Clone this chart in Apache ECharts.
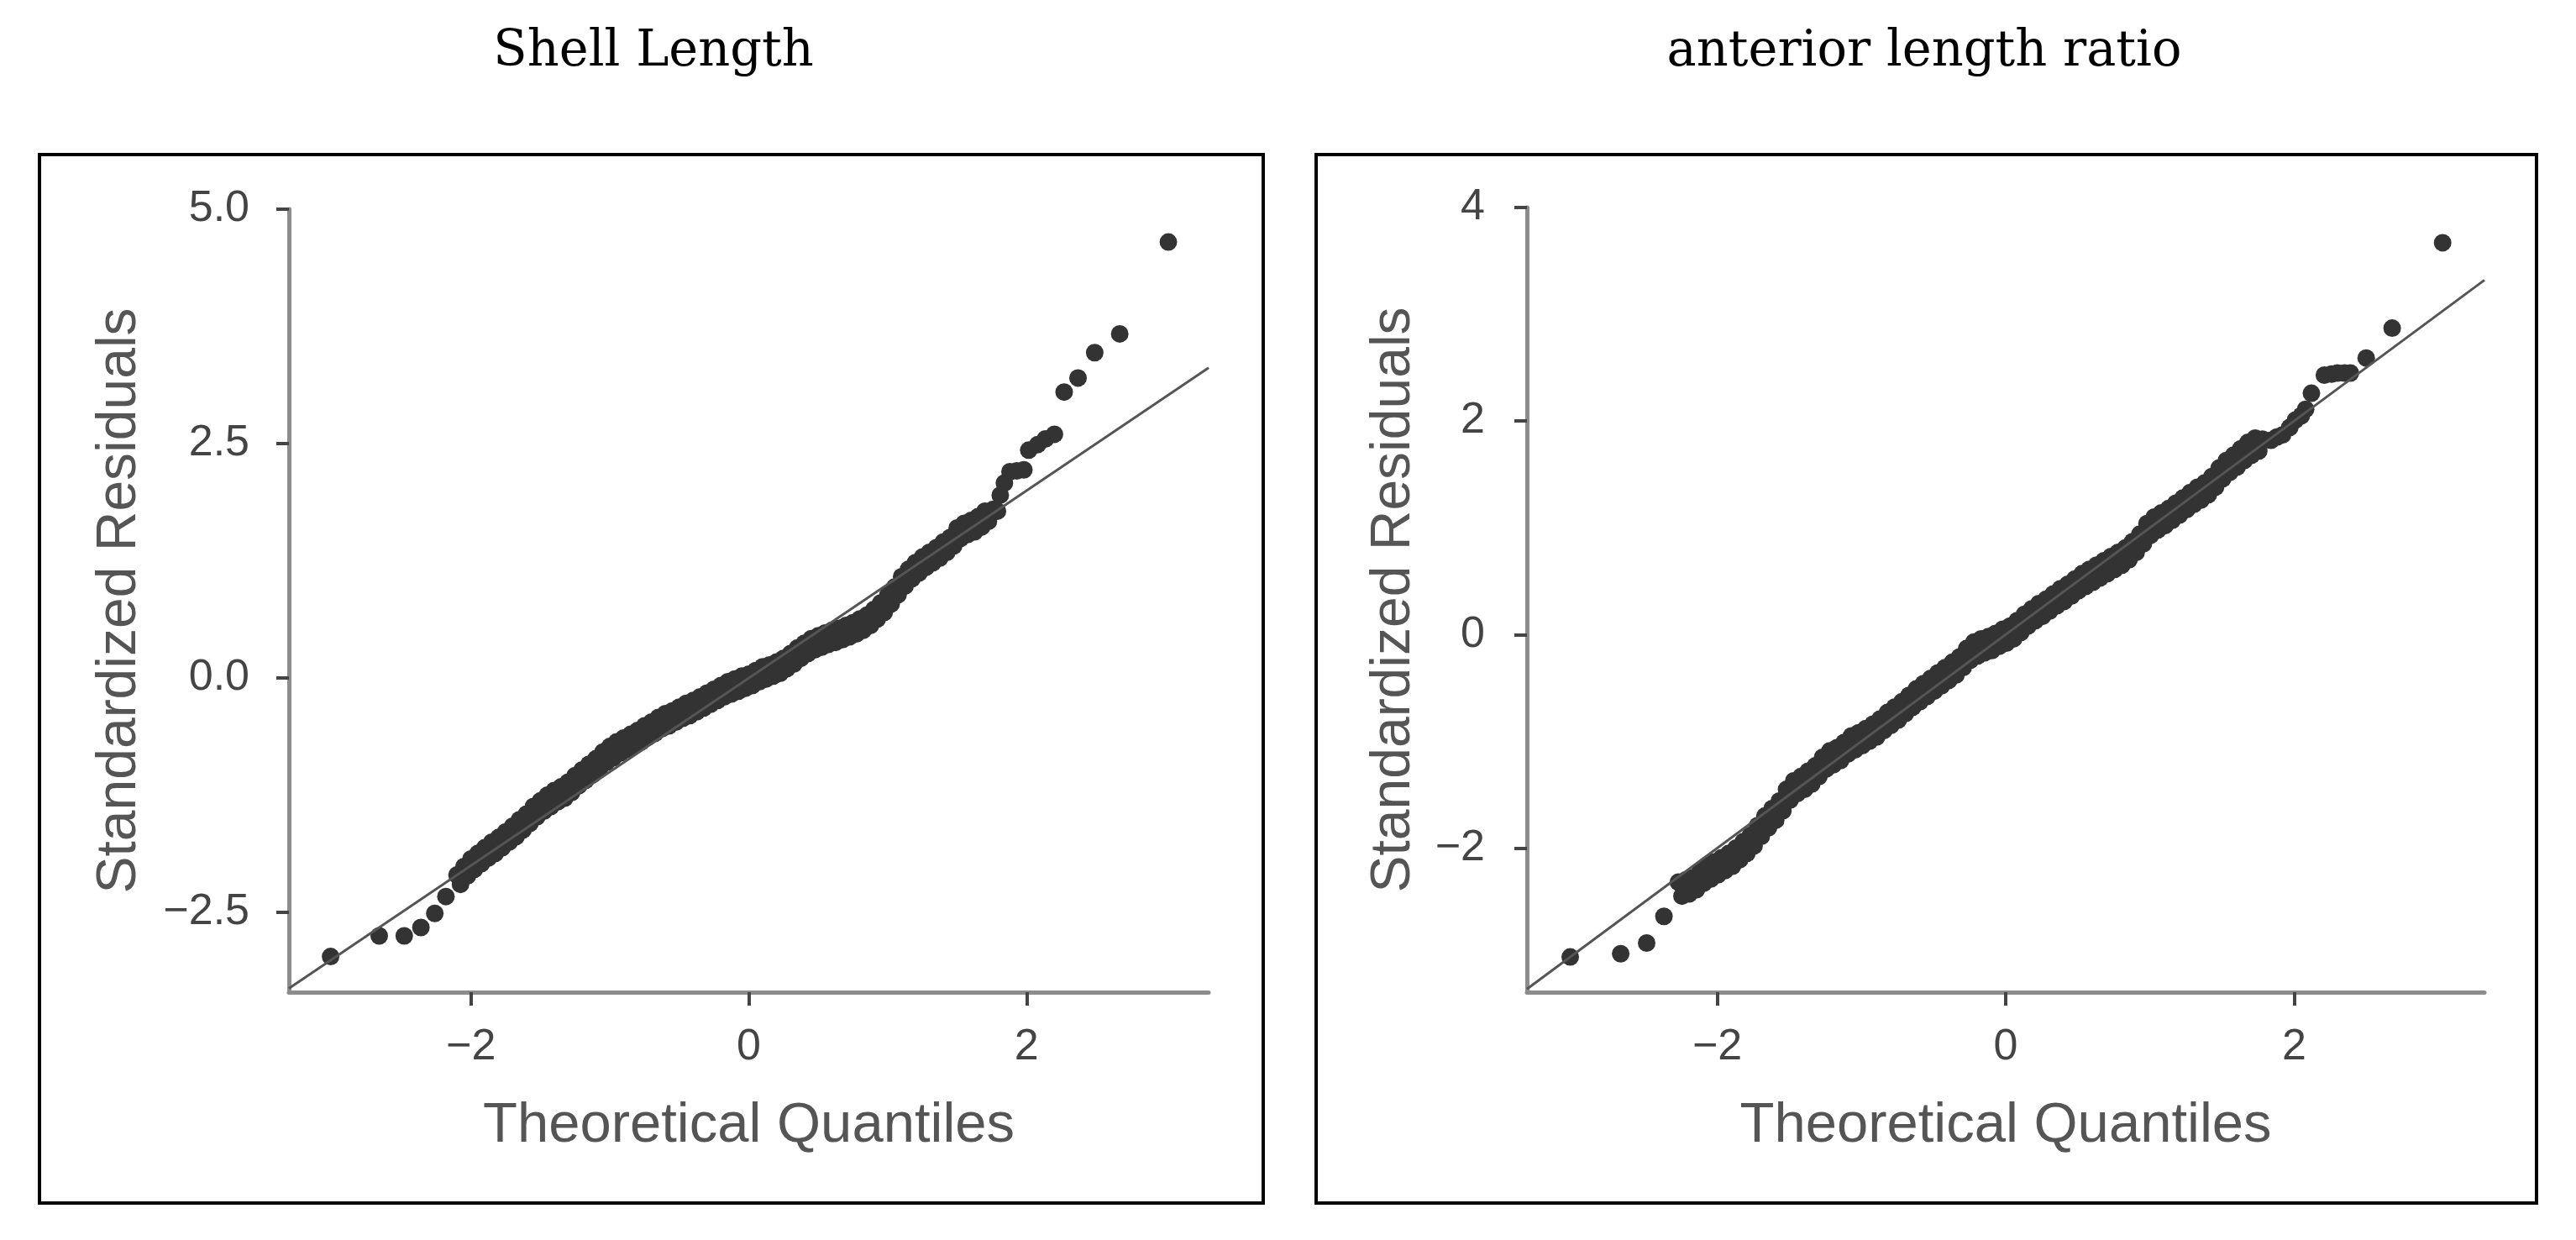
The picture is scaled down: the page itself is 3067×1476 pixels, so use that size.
<!DOCTYPE html>
<html>
<head>
<meta charset="utf-8">
<title>Q-Q plots</title>
<script src="https://cdn.jsdelivr.net/npm/echarts@6.0.0/dist/echarts.min.js"></script>
<style>
  html, body { margin: 0; padding: 0; background: #fff; }
  #main { width: 3067px; height: 1476px; }
</style>
</head>
<body>
<div id="main"></div>
<script>
// Shell Length: theoretical quantiles and standardized residuals (read off the plot;
// the dense band is given as its upper and lower runs of dots)
const shellQ = [
  -3.01, -2.66, -2.48, -2.36, -2.26, -2.18,
  -2.10, -2.075, -2.05, -2.025, -2.00, -1.975, -1.95, -1.925, -1.90, -1.875,
  -1.85, -1.825, -1.80, -1.775, -1.75, -1.725, -1.70, -1.675, -1.65, -1.625,
  -1.60, -1.575, -1.55, -1.525, -1.50, -1.475, -1.45, -1.425, -1.40, -1.375,
  -1.35, -1.325, -1.30, -1.275, -1.25, -1.225, -1.20, -1.175, -1.15, -1.125,
  -1.10, -1.075, -1.05, -1.025, -1.00, -0.975, -0.95, -0.925, -0.90, -0.875,
  -0.85, -0.825, -0.80, -0.775, -0.75, -0.725, -0.70, -0.675, -0.65, -0.625,
  -0.60, -0.575, -0.55, -0.525, -0.50, -0.475, -0.45, -0.425, -0.40, -0.375,
  -0.35, -0.325, -0.30, -0.275, -0.25, -0.225, -0.20, -0.175, -0.15, -0.125,
  -0.10, -0.075, -0.05, -0.025, 0.00, 0.025, 0.05, 0.075, 0.10, 0.125,
  0.15, 0.175, 0.20, 0.225, 0.25, 0.275, 0.30, 0.325, 0.35, 0.375,
  0.40, 0.425, 0.45, 0.475, 0.50, 0.525, 0.55, 0.575, 0.60, 0.625,
  0.65, 0.675, 0.70, 0.725, 0.75, 0.775, 0.80, 0.825, 0.85, 0.875,
  0.90, 0.925, 0.95, 0.975, 1.00, 1.025, 1.05, 1.075, 1.10, 1.125,
  1.15, 1.175, 1.20, 1.225, 1.25, 1.275, 1.30, 1.325, 1.35, 1.375,
  1.40, 1.425, 1.45, 1.475, 1.50, 1.525, 1.55, 1.575, 1.60, 1.625,
  1.65, 1.675, 1.70, 1.725, 1.76,
  1.79, 1.81, 1.84, 1.88, 1.93, 1.98, 2.015, 2.08, 2.135, 2.20,
  2.27, 2.37, 2.49, 2.67, 3.02
];
const shellR = [
  -2.97, -2.75, -2.75, -2.66, -2.51, -2.33,
  -2.10, -2.20, -2.01, -2.11, -1.93, -2.04, -1.87, -1.98, -1.81, -1.92,
  -1.75, -1.87, -1.70, -1.81, -1.64, -1.75, -1.58, -1.69, -1.51, -1.62,
  -1.45, -1.55, -1.37, -1.48, -1.31, -1.42, -1.25, -1.37, -1.20, -1.32,
  -1.16, -1.28, -1.11, -1.22, -1.04, -1.15, -0.98, -1.09, -0.92, -1.03,
  -0.86, -0.97, -0.79, -0.90, -0.73, -0.85, -0.68, -0.80, -0.64, -0.76,
  -0.60, -0.72, -0.56, -0.68, -0.51, -0.63, -0.47, -0.59, -0.42, -0.54,
  -0.38, -0.51, -0.35, -0.47, -0.31, -0.43, -0.27, -0.40, -0.24, -0.36,
  -0.20, -0.32, -0.16, -0.28, -0.12, -0.24, -0.08, -0.20, -0.04, -0.17,
  -0.01, -0.14, 0.02, -0.11, 0.04, -0.08, 0.08, -0.04, 0.12, -0.01,
  0.14, 0.02, 0.17, 0.05, 0.21, 0.10, 0.26, 0.15, 0.32, 0.21,
  0.37, 0.26, 0.42, 0.30, 0.45, 0.33, 0.48, 0.36, 0.51, 0.38,
  0.53, 0.41, 0.56, 0.44, 0.59, 0.47, 0.63, 0.51, 0.67, 0.56,
  0.73, 0.63, 0.80, 0.70, 0.88, 0.79, 0.97, 0.89, 1.08, 0.98,
  1.16, 1.06, 1.23, 1.12, 1.29, 1.18, 1.34, 1.23, 1.39, 1.28,
  1.45, 1.34, 1.50, 1.41, 1.60, 1.49, 1.65, 1.53, 1.68, 1.56,
  1.72, 1.61, 1.78, 1.67, 1.80,
  1.78, 1.95, 2.08, 2.20, 2.21, 2.22, 2.43, 2.49, 2.55, 2.60,
  3.05, 3.20, 3.47, 3.67, 4.65
];

// anterior length ratio
const ratioQ = [
  -3.02, -2.67, -2.49, -2.37,
  -2.27, -2.245, -2.22, -2.195, -2.17, -2.145, -2.12, -2.095, -2.07, -2.045,
  -2.02, -1.995, -1.97, -1.945, -1.92, -1.895, -1.87, -1.845, -1.82, -1.795,
  -1.77, -1.745, -1.72, -1.695, -1.67, -1.645, -1.62, -1.595, -1.57, -1.545,
  -1.52, -1.495, -1.47, -1.445, -1.42, -1.395, -1.37, -1.345, -1.32, -1.295,
  -1.27, -1.245, -1.22, -1.195, -1.17, -1.145, -1.12, -1.095, -1.07, -1.045,
  -1.02, -0.995, -0.97, -0.945, -0.92, -0.895, -0.87, -0.845, -0.82, -0.795,
  -0.77, -0.745, -0.72, -0.695, -0.67, -0.645, -0.62, -0.595, -0.57, -0.545,
  -0.52, -0.495, -0.47, -0.445, -0.42, -0.395, -0.37, -0.345, -0.32, -0.295,
  -0.27, -0.245, -0.22, -0.195, -0.17, -0.145, -0.12, -0.095, -0.07, -0.045,
  -0.02, 0.005, 0.03, 0.055, 0.08, 0.105, 0.13, 0.155, 0.18, 0.205,
  0.23, 0.255, 0.28, 0.305, 0.33, 0.355, 0.38, 0.405, 0.43, 0.455,
  0.48, 0.505, 0.53, 0.555, 0.58, 0.605, 0.63, 0.655, 0.68, 0.705,
  0.73, 0.755, 0.78, 0.805, 0.83, 0.855, 0.88, 0.905, 0.93, 0.955,
  0.98, 1.005, 1.03, 1.055, 1.08, 1.105, 1.13, 1.155, 1.18, 1.205,
  1.23, 1.255, 1.28, 1.305, 1.33, 1.355, 1.38, 1.405, 1.43, 1.455,
  1.48, 1.505, 1.53, 1.555, 1.58, 1.605, 1.63, 1.655, 1.68, 1.705,
  1.73, 1.755, 1.78,
  1.84, 1.88, 1.92, 1.97, 2.01, 2.05, 2.08, 2.12,
  2.21, 2.26, 2.30, 2.35, 2.39, 2.50, 2.68, 3.03
];
const ratioR = [
  -3.02, -2.99, -2.89, -2.64,
  -2.32, -2.45, -2.30, -2.43, -2.28, -2.39, -2.22, -2.33, -2.16, -2.29,
  -2.13, -2.25, -2.09, -2.21, -2.05, -2.17, -2.00, -2.11, -1.94, -2.05,
  -1.88, -1.98, -1.79, -1.89, -1.70, -1.81, -1.63, -1.74, -1.56, -1.65,
  -1.45, -1.55, -1.37, -1.49, -1.33, -1.45, -1.28, -1.40, -1.23, -1.33,
  -1.15, -1.26, -1.09, -1.22, -1.06, -1.18, -1.01, -1.12, -0.95, -1.08,
  -0.92, -1.04, -0.88, -1.00, -0.84, -0.96, -0.79, -0.90, -0.73, -0.85,
  -0.68, -0.80, -0.63, -0.74, -0.57, -0.68, -0.51, -0.63, -0.46, -0.58,
  -0.41, -0.53, -0.36, -0.48, -0.31, -0.43, -0.26, -0.38, -0.21, -0.31,
  -0.13, -0.24, -0.07, -0.20, -0.04, -0.17, -0.02, -0.15, 0.01, -0.11,
  0.05, -0.08, 0.08, -0.04, 0.13, 0.02, 0.19, 0.08, 0.24, 0.13,
  0.29, 0.17, 0.33, 0.22, 0.38, 0.27, 0.43, 0.31, 0.47, 0.36,
  0.52, 0.41, 0.57, 0.45, 0.61, 0.49, 0.65, 0.53, 0.69, 0.57,
  0.73, 0.61, 0.77, 0.65, 0.81, 0.70, 0.87, 0.77, 0.94, 0.85,
  1.04, 0.93, 1.10, 0.98, 1.14, 1.02, 1.18, 1.07, 1.23, 1.12,
  1.28, 1.17, 1.33, 1.22, 1.38, 1.26, 1.42, 1.31, 1.48, 1.38,
  1.56, 1.46, 1.63, 1.52, 1.68, 1.57, 1.74, 1.63, 1.80, 1.68,
  1.84, 1.72, 1.83,
  1.82, 1.85, 1.87, 1.94, 2.01, 2.05, 2.11, 2.26,
  2.43, 2.44, 2.45, 2.45, 2.45, 2.59, 2.87, 3.67
];

// ticks
const quantileTicks = [-2, 0, 2];
const shellTicks = [-2.5, 0, 2.5, 5];
const ratioTicks = [-2, 0, 2, 4];

// axis ranges
const shellXRange = [-3.31, 3.31];
const shellYRange = [-3.35, 5.0];
const ratioXRange = [-3.32, 3.32];
const ratioYRange = [-3.35, 4.0];

const titles = ["Shell Length", "anterior length ratio"];

const minus = (s) => String(s).replace("-", "\u2212");

function xAxisFor(gridIndex, range) {
  return {
    type: "value",
    gridIndex: gridIndex,
    min: range[0],
    max: range[1],
    name: "Theoretical Quantiles",
    nameLocation: "middle",
    nameGap: 126,
    nameTextStyle: { fontFamily: "Liberation Sans", fontSize: 67, color: "#555" },
    axisLine: { show: true, onZero: false, lineStyle: { color: "#8c8c8c", width: 5 } },
    axisTick: { show: true, customValues: quantileTicks, length: 16, lineStyle: { color: "#444", width: 4 } },
    axisLabel: {
      customValues: quantileTicks,
      margin: 40,
      fontFamily: "Liberation Sans",
      fontSize: 52,
      color: "#444",
      formatter: (v) => minus(v),
    },
    splitLine: { show: false },
  };
}

function yAxisFor(gridIndex, range, ticks, gap, margin, digits) {
  return {
    type: "value",
    gridIndex: gridIndex,
    min: range[0],
    max: range[1],
    name: "Standardized Residuals",
    nameLocation: "middle",
    nameGap: gap,
    nameRotate: 90,
    nameTextStyle: { fontFamily: "Liberation Sans", fontSize: 66, color: "#555" },
    axisLine: { show: true, onZero: false, lineStyle: { color: "#8c8c8c", width: 5 } },
    axisTick: { show: true, customValues: ticks, length: 15, lineStyle: { color: "#444", width: 4 } },
    axisLabel: {
      customValues: ticks,
      margin: margin,
      fontFamily: "Liberation Sans",
      fontSize: 52,
      color: "#444",
      formatter: (v) => minus(v.toFixed(digits)),
    },
    splitLine: { show: false },
  };
}

function pairs(xs, ys) {
  return xs.map((x, i) => [x, ys[i]]);
}

const options = {
  backgroundColor: "#fff",
  animation: false,
  title: [
    {
      text: titles[0],
      left: 773,
      top: 28,
      textAlign: "center",
      textStyle: { fontFamily: "DejaVu Serif", fontWeight: "normal", fontSize: 59, color: "#000" },
    },
    {
      text: titles[1],
      left: 2286,
      top: 28,
      textAlign: "center",
      textStyle: { fontFamily: "DejaVu Serif", fontWeight: "normal", fontSize: 59, color: "#000" },
    },
  ],
  graphic: [
    { type: "rect", shape: { x: 47, y: 184, width: 1457, height: 1248 }, style: { fill: "none", stroke: "#000", lineWidth: 4 } },
    { type: "rect", shape: { x: 1567, y: 184, width: 1453, height: 1248 }, style: { fill: "none", stroke: "#000", lineWidth: 4 } },
  ],
  grid: [
    { left: 344, top: 249, width: 1095, height: 932 },
    { left: 1818, top: 247, width: 1140, height: 934 },
  ],
  xAxis: [xAxisFor(0, shellXRange), xAxisFor(1, ratioXRange)],
  yAxis: [
    yAxisFor(0, shellYRange, shellTicks, 168, 47, 1),
    yAxisFor(1, ratioYRange, ratioTicks, 125, 50, 0),
  ],
  series: [
    {
      type: "line",
      xAxisIndex: 0,
      yAxisIndex: 0,
      data: [[shellXRange[0], shellXRange[0]], [shellXRange[1], shellXRange[1]]],
      showSymbol: false,
      lineStyle: { color: "#555", width: 3 },
      z: 3,
    },
    {
      type: "scatter",
      xAxisIndex: 0,
      yAxisIndex: 0,
      data: pairs(shellQ, shellR),
      symbolSize: 21,
      itemStyle: { color: "#333", opacity: 1 },
      z: 2,
    },
    {
      type: "line",
      xAxisIndex: 1,
      yAxisIndex: 1,
      data: [[ratioXRange[0], ratioXRange[0]], [ratioXRange[1], ratioXRange[1]]],
      showSymbol: false,
      lineStyle: { color: "#555", width: 3 },
      z: 3,
    },
    {
      type: "scatter",
      xAxisIndex: 1,
      yAxisIndex: 1,
      data: pairs(ratioQ, ratioR),
      symbolSize: 21,
      itemStyle: { color: "#333", opacity: 1 },
      z: 2,
    },
  ],
};

let myChart = echarts.init(document.getElementById("main"));
myChart.setOption(options);
</script>
</body>
</html>
